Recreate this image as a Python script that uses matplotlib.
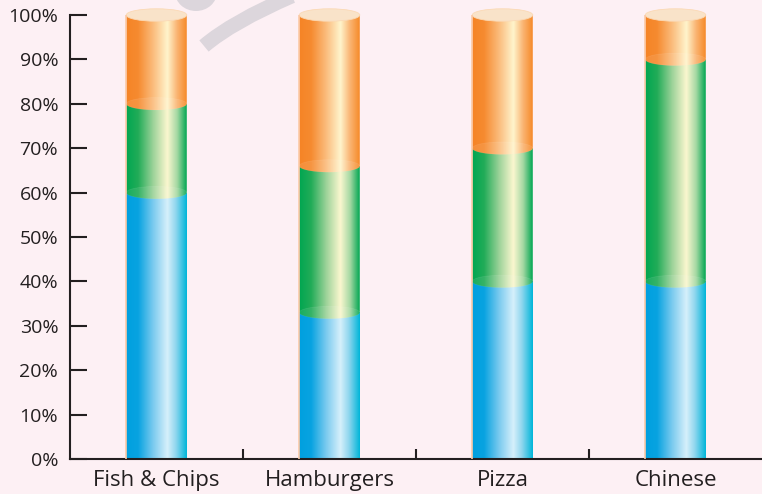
import numpy as np
import matplotlib.pyplot as plt
from matplotlib.colors import LinearSegmentedColormap
from matplotlib.patches import Ellipse, PathPatch
from matplotlib.path import Path
from matplotlib.transforms import IdentityTransform

plt.rcParams['font.family'] = ['Open Sans', 'DejaVu Sans']

# data (percent of people)
foods = ['Fish & Chips', 'Hamburgers', 'Pizza', 'Chinese']
blue_vals = [60, 33, 40, 40]
green_vals = [20, 33, 30, 50]
orange_vals = [20, 34, 30, 10]
y_ticks = [0, 10, 20, 30, 40, 50, 60, 70, 80, 90, 100]

bg = '#fdf0f4'
ink = '#231f20'

# cylinder shading, left -> right
blue_cm = LinearSegmentedColormap.from_list('blue', [(0, '#00a0df'), (0.2, '#08a3e1'), (0.45, '#7ccbef'),
                                                     (0.68, '#d6f0fb'), (0.82, '#8fd6ee'), (1, '#00b5d9')])
green_cm = LinearSegmentedColormap.from_list('green', [(0, '#00a651'), (0.2, '#22ac58'), (0.45, '#9ed39a'),
                                                       (0.68, '#fbf7cf'), (0.84, '#a5d8a3'), (1, '#00a651')])
orange_cm = LinearSegmentedColormap.from_list('orange', [(0, '#f58426'), (0.2, '#f68b30'), (0.45, '#fbbd7e'),
                                                         (0.68, '#fff4cc'), (0.84, '#fab472'), (1, '#f68a28')])

fig = plt.figure(figsize=(7.62, 4.94), dpi=100, facecolor=bg)

# faint grey logo watermark at the top
wm = '#dcd6dc'
fig.patches.append(PathPatch(Path([(204, 494 - 46), (232, 494 - 22), (292, 494 + 4)],
                                  [Path.MOVETO, Path.CURVE3, Path.CURVE3]),
                             fill=False, edgecolor=wm, lw=10.5, capstyle='butt',
                             transform=IdentityTransform(), zorder=-1))
fig.patches.append(Ellipse((196, 494 + 8), 42, 38, facecolor=wm, edgecolor='none',
                           transform=IdentityTransform(), zorder=-1))

ax = fig.add_axes([70 / 762, 35 / 494, 692 / 762, 444 / 494])
ax.set_facecolor('none')
ax.set_xlim(0, 4)
ax.set_ylim(0, 100)

w = 0.35
eh = 2.8  # ellipse height in data units
grad = np.linspace(0, 1, 256).reshape(1, -1)
t = np.linspace(np.pi, 2 * np.pi, 60)

for i in range(len(foods)):
    xc = i + 0.5
    x0, x1 = xc - w / 2, xc + w / 2
    segs = [(blue_vals[i], blue_cm), (green_vals[i], green_cm), (orange_vals[i], orange_cm)]
    base = 0
    for k, (v, cm) in enumerate(segs):
        top = base + v
        if k == 0:
            verts = [(x0, top), (x0, base), (x1, base), (x1, top), (x0, top)]
        else:
            arc = [(xc + w / 2 * np.cos(a), base + eh / 2 * np.sin(a)) for a in t]
            verts = [(x0, top)] + arc + [(x1, top), (x0, top)]
        clip = PathPatch(Path(verts), transform=ax.transData, facecolor='none', edgecolor='none')
        im = ax.imshow(grad, cmap=cm, extent=(x0, x1, base - eh, top), aspect='auto',
                       interpolation='bilinear', zorder=2 + k)
        im.set_clip_path(clip)
        if k > 0:
            # faint rim of the lower cylinder showing through
            ax.add_patch(Ellipse((xc, base), w, eh, facecolor='white', alpha=0.09,
                                 edgecolor='white', lw=0.5, zorder=2 + k))
        base = top
    # top cap
    ax.add_patch(Ellipse((i + 0.5, base), w, eh, facecolor='#f9e3c9', edgecolor='#fbd9b5',
                         lw=0.6, zorder=6, clip_on=False))
    # thin peach edge on the left side
    ax.plot([x0, x0], [0, base], color='#fbcaa8', lw=1.2, zorder=6, solid_capstyle='butt')

for s in ['top', 'right']:
    ax.spines[s].set_visible(False)
for s in ['left', 'bottom']:
    ax.spines[s].set_linewidth(1.5)
    ax.spines[s].set_color(ink)

ax.set_yticks(y_ticks)
ax.set_yticklabels([f'{v}%' for v in y_ticks], va='top')
for lab in ax.get_yticklabels():
    lab.set_y(0)
ax.tick_params(axis='y', direction='in', length=12.5, width=1.5, color=ink,
               labelsize=14, labelcolor=ink, pad=8.5)
for lab in ax.get_yticklabels():
    lab.set_verticalalignment('center_baseline')

ax.set_xticks([1, 2, 3])
ax.set_xticklabels([])
ax.tick_params(axis='x', which='major', direction='in', length=7.5, width=1.5, color=ink)
ax.set_xticks([i + 0.5 for i in range(len(foods))], minor=True)
ax.set_xticklabels(foods, minor=True)
ax.tick_params(axis='x', which='minor', length=0, labelsize=16, labelcolor=ink, pad=8)

fig.savefig('out.png', dpi=100, facecolor=bg)
